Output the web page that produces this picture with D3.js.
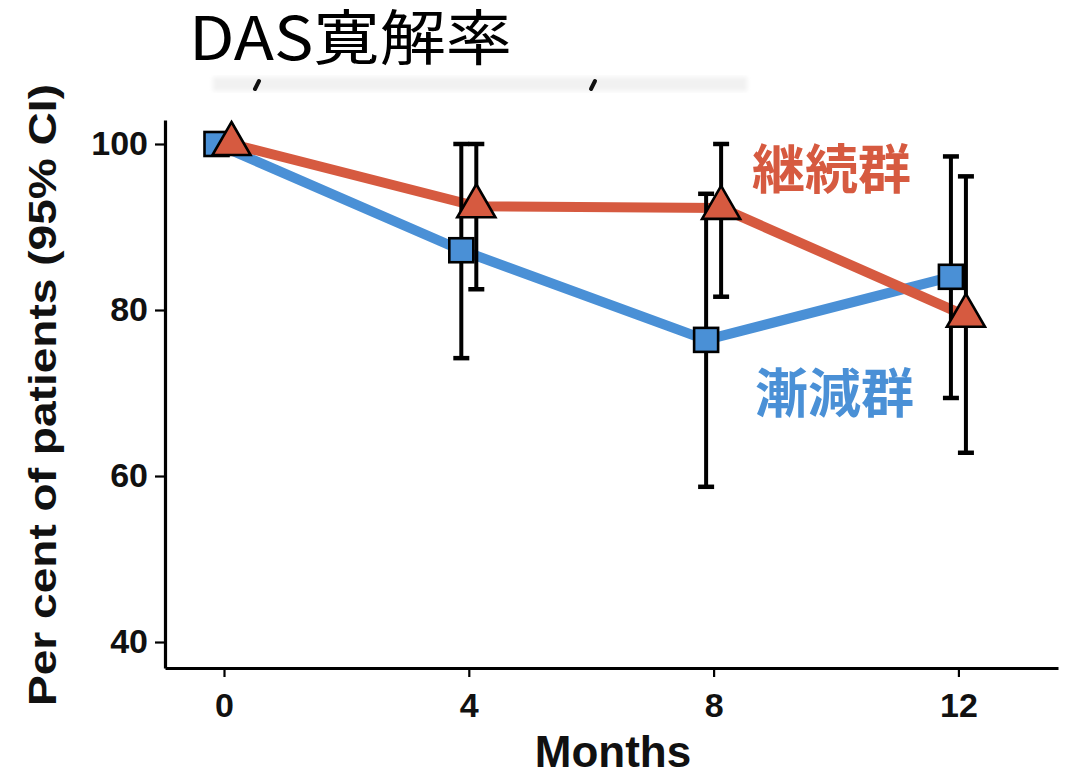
<!DOCTYPE html>
<html>
<head>
<meta charset="utf-8">
<script src="https://cdn.jsdelivr.net/npm/d3@7"></script>
<style>
  html, body { margin: 0; padding: 0; background: #ffffff; }
  svg { display: block; }
</style>
</head>
<body>
<script>
// Visit months and remission rates (%) with 95% CI per group
const months = [0, 4, 8, 12];
const monthTicks = [0, 4, 8, 12];
const percentTicks = [40, 60, 80, 100];

const taperMean = [100, 87.2, 76.4, 84.0];
const taperLow  = [100, 74.2, 58.7, 69.4];
const taperHigh = [100, 100, 94.0, 98.5];

const contMean = [100, 92.5, 92.3, 79.3];
const contLow  = [100, 82.5, 81.6, 62.8];
const contHigh = [100, 100, 100, 96.1];

const groupNames = ["漸減群", "継続群"];
const titleText = "DAS寛解率";
const xTitle = "Months";
const yTitle = "Per cent of patients (95% CI)";

const W = 1068, H = 776;
const BLUE = "#4a90d6";
const RED = "#d65a40";
const DODGE = 7.5; // horizontal px offset between the two groups

const svg = d3.select("body").append("svg")
  .attr("width", W).attr("height", H);

const x = d3.scaleLinear().domain([-0.964, 13.627]).range([165, 1058]);
const y = d3.scaleLinear().domain([36.87, 102.89]).range([668, 120]);

// faint remnant band under the title
const defs = svg.append("defs");
defs.append("filter").attr("id", "soft")
  .append("feGaussianBlur").attr("stdDeviation", 2);
svg.append("rect")
  .attr("x", 213).attr("y", 77).attr("width", 534).attr("height", 14)
  .attr("fill", "#f1f1f1").attr("filter", "url(#soft)");
[[257, 85], [593, 85]].forEach(([cx, cy]) => {
  svg.append("line")
    .attr("x1", cx - 2).attr("y1", cy + 4).attr("x2", cx + 2).attr("y2", cy - 4)
    .attr("stroke", "#111").attr("stroke-width", 4).attr("stroke-linecap", "round");
});

// title
svg.append("text")
  .attr("x", 189).attr("y", 60)
  .attr("font-family", "'Noto Sans CJK JP', 'Noto Sans', sans-serif")
  .attr("font-size", 60)
  .attr("textLength", 323)
  .attr("lengthAdjust", "spacingAndGlyphs")
  .attr("fill", "#000")
  .text(titleText);

const tickFont = "'Liberation Sans', Arial, Helvetica, sans-serif";

// y axis
const yAxis = svg.append("g")
  .attr("transform", "translate(165,0)")
  .call(d3.axisLeft(y).tickValues(percentTicks).tickSize(10).tickSizeOuter(0).tickPadding(7));
// x axis
const xAxis = svg.append("g")
  .attr("transform", "translate(0,668)")
  .call(d3.axisBottom(x).tickValues(monthTicks).tickSize(9).tickSizeOuter(0).tickPadding(16));

[yAxis, xAxis].forEach(g => {
  g.select(".domain").attr("stroke", "#000").attr("stroke-width", 3.2);
  g.selectAll(".tick line").attr("stroke", "#000").attr("stroke-width", 2.2);
  g.selectAll(".tick text")
    .attr("font-family", tickFont)
    .attr("font-weight", "bold")
    .attr("font-size", 34)
    .attr("fill", "#111");
});

// axis titles
svg.append("text")
  .attr("x", 613).attr("y", 767)
  .attr("text-anchor", "middle")
  .attr("font-family", tickFont)
  .attr("font-weight", "bold")
  .attr("font-size", 44)
  .attr("fill", "#111")
  .text(xTitle);

svg.append("text")
  .attr("transform", "translate(56,395) rotate(-90)")
  .attr("text-anchor", "middle")
  .attr("font-family", tickFont)
  .attr("font-weight", "bold")
  .attr("font-size", 39)
  .attr("textLength", 622)
  .attr("lengthAdjust", "spacingAndGlyphs")
  .attr("fill", "#111")
  .text(yTitle);

// series table
const series = [
  { name: groupNames[0], color: BLUE, shape: "square", off: -DODGE,
    pts: months.map((m, i) => ({ m, v: taperMean[i], lo: taperLow[i], hi: taperHigh[i] })) },
  { name: groupNames[1], color: RED, shape: "triangle", off: DODGE,
    pts: months.map((m, i) => ({ m, v: contMean[i], lo: contLow[i], hi: contHigh[i] })) }
];

const line = (off) => d3.line().x(d => x(d.m) + off).y(d => y(d.v));

// lines
series.forEach(s => {
  svg.append("path")
    .datum(s.pts)
    .attr("d", line(s.off))
    .attr("fill", "none")
    .attr("stroke", s.color)
    .attr("stroke-width", 10)
    .attr("stroke-linejoin", "round");
});

// error bars
const capW = 8;
series.forEach(s => {
  const g = svg.append("g");
  s.pts.filter(d => d.hi > d.lo).forEach(d => {
    const cx = x(d.m) + s.off;
    g.append("line").attr("x1", cx).attr("x2", cx)
      .attr("y1", y(d.hi)).attr("y2", y(d.lo))
      .attr("stroke", "#000").attr("stroke-width", 4);
    [d.hi, d.lo].forEach(v => {
      g.append("line").attr("x1", cx - capW).attr("x2", cx + capW)
        .attr("y1", y(v)).attr("y2", y(v))
        .attr("stroke", "#000").attr("stroke-width", 4.5);
    });
  });
});

// markers
const sq = 24;
const r = 22;
series.forEach(s => {
  s.pts.forEach(d => {
    const cx = x(d.m) + s.off, cy = y(d.v);
    if (s.shape === "square") {
      svg.append("rect")
        .attr("x", cx - sq / 2).attr("y", cy - sq / 2)
        .attr("width", sq).attr("height", sq)
        .attr("fill", s.color).attr("stroke", "#000").attr("stroke-width", 2.6);
    } else {
      const xc = r * Math.sqrt(3) / 2;
      const pts = [[cx, cy - r], [cx + xc, cy + r / 2], [cx - xc, cy + r / 2]];
      svg.append("path")
        .attr("d", "M" + pts.map(p => p.join(",")).join("L") + "Z")
        .attr("fill", s.color).attr("stroke", "#000").attr("stroke-width", 2.6)
        .attr("stroke-linejoin", "miter");
    }
  });
});

// group labels
const cjk = "'Noto Sans CJK JP', 'Noto Sans CJK SC', sans-serif";
svg.append("text")
  .attr("x", 752).attr("y", 189)
  .attr("font-family", cjk).attr("font-weight", "bold").attr("font-size", 53)
  .attr("fill", RED)
  .text(groupNames[1]);
svg.append("text")
  .attr("x", 755).attr("y", 413)
  .attr("font-family", cjk).attr("font-weight", "bold").attr("font-size", 53)
  .attr("fill", BLUE)
  .text(groupNames[0]);
</script>
</body>
</html>
